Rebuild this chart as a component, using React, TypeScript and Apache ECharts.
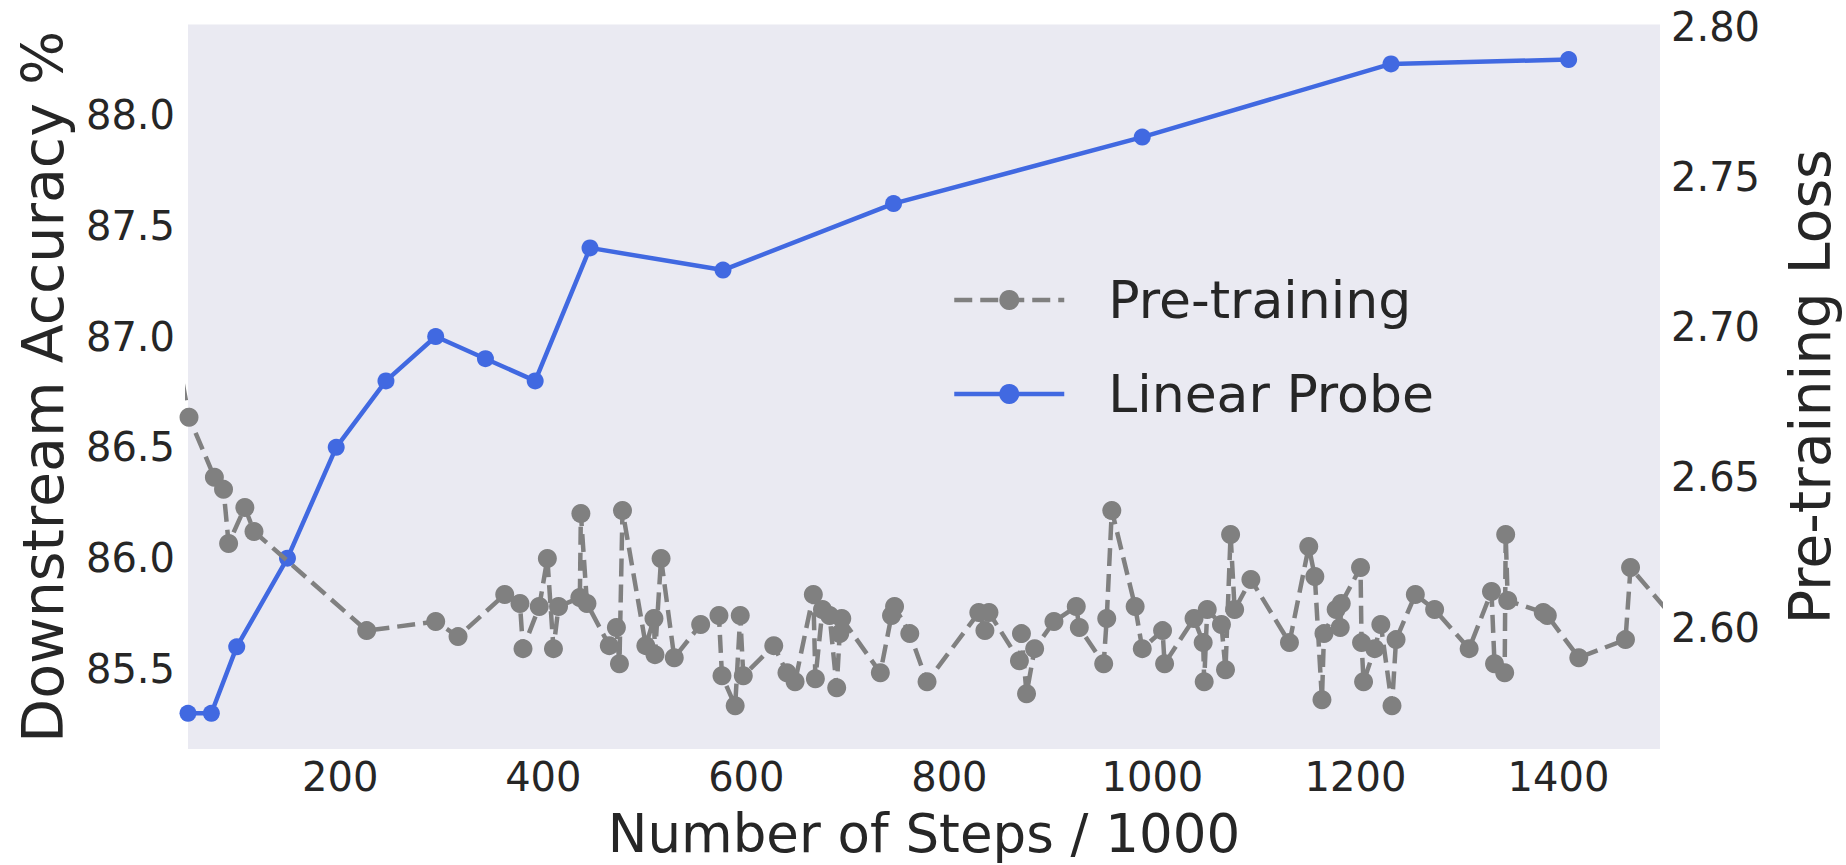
import React, { useEffect, useRef } from "react";
import * as echarts from "echarts";

// Linear probe (left axis): steps / 1000 and downstream accuracy %
const probeSteps = [50, 73, 98, 148, 196, 245, 294, 343, 392, 446, 577, 745, 990, 1235, 1410];
const probeAcc = [85.3, 85.3, 85.6, 86.0, 86.5, 86.8, 87.0, 86.9, 86.8, 87.4, 87.3, 87.6, 87.9, 88.23, 88.25];

// Pre-training loss (right axis)
const pretrainSteps = [
  40, 51, 76, 85, 90, 106, 115, 226, 294, 316,
  362, 377, 380, 396, 404, 410, 415, 436, 437, 443,
  465, 472, 475, 478, 501, 509, 510, 516, 529, 555,
  573, 576, 589, 594, 597, 627, 640, 648, 666, 668,
  675, 682, 689, 692, 694, 732, 743, 746, 761, 778,
  829, 835, 839, 869, 871, 876, 884, 903, 925, 928,
  952, 955, 960, 983, 990, 1010, 1012, 1041, 1050, 1051,
  1054, 1068, 1072, 1077, 1081, 1097, 1135, 1154, 1160, 1167,
  1169, 1181, 1185, 1186, 1205, 1206, 1208, 1219, 1225, 1236,
  1240, 1259, 1278, 1312, 1334, 1337, 1347, 1348, 1350, 1385,
  1389, 1420, 1466, 1471, 1524,
];
const pretrainLoss = [
  2.69, 2.67, 2.65, 2.646, 2.628, 2.64, 2.632, 2.599, 2.602, 2.597,
  2.611, 2.608, 2.593, 2.607, 2.623, 2.593, 2.607, 2.61, 2.638, 2.608,
  2.594, 2.6, 2.588, 2.639, 2.594, 2.603, 2.591, 2.623, 2.59, 2.601,
  2.604, 2.584, 2.574, 2.604, 2.584, 2.594, 2.585, 2.582, 2.611, 2.583,
  2.606, 2.604, 2.58, 2.598, 2.603, 2.585, 2.604, 2.607, 2.598, 2.582,
  2.605, 2.599, 2.605, 2.589, 2.598, 2.578, 2.593, 2.602, 2.607, 2.6,
  2.588, 2.603, 2.639, 2.607, 2.593, 2.599, 2.588, 2.603, 2.595, 2.582,
  2.606, 2.601, 2.586, 2.631, 2.606, 2.616, 2.595, 2.627, 2.617, 2.576,
  2.598, 2.606, 2.6, 2.608, 2.62, 2.595, 2.582, 2.593, 2.601, 2.574,
  2.596, 2.611, 2.606, 2.593, 2.612, 2.588, 2.585, 2.631, 2.609, 2.605,
  2.604, 2.59, 2.596, 2.62, 2.599,
];

const xTicks = [200, 400, 600, 800, 1000, 1200, 1400];
const accTicks = [85.5, 86.0, 86.5, 87.0, 87.5, 88.0];
const lossTicks = [2.6, 2.65, 2.7, 2.75, 2.8];

const GRAY = "#808080";
const BLUE = "#4169E1";

export default function App() {
  const ref = useRef<HTMLDivElement>(null);
  useEffect(() => {
    const chart = echarts.init(ref.current!, null, { renderer: "svg" });
    const font = "DejaVu Sans";
    const textColor = "#262626";
    chart.setOption({
      animation: false,
      backgroundColor: "#ffffff",
      textStyle: { fontFamily: font, color: textColor },
      grid: {
        left: 188,
        right: 170.5,
        top: 24.5,
        bottom: 116,
        show: true,
        backgroundColor: "#EAEAF2",
        borderWidth: 0,
      },
      legend: {
        orient: "vertical",
        left: 952,
        top: 274,
        padding: 0,
        itemGap: 42,
        itemWidth: 110,
        itemHeight: 25,
        data: [
          {
            name: "Pre-training",
            lineStyle: { color: GRAY, width: 4.5, type: [18, 8] },
            itemStyle: { color: GRAY },
          },
          {
            name: "Linear Probe",
            lineStyle: { color: BLUE, width: 4.5, type: "solid" },
            itemStyle: { color: BLUE },
          },
        ],
        textStyle: { fontSize: 52, color: textColor, fontFamily: font, padding: [0, 0, 0, 39] },
      },
      xAxis: {
        type: "value",
        min: 50,
        max: 1500,
        axisLine: { show: false },
        axisTick: { show: false },
        splitLine: { show: false },
        axisLabel: {
          customValues: xTicks,
          formatter: (v: number) => String(v),
          fontSize: 40,
          color: textColor,
          fontFamily: font,
          margin: 8,
        },
        name: "Number of Steps / 1000",
        nameLocation: "middle",
        nameGap: 58,
        nameTextStyle: { fontSize: 53, color: textColor, fontFamily: font },
      },
      yAxis: [
        {
          type: "value",
          position: "left",
          min: 85.139,
          max: 88.408,
          axisLine: { show: false },
          axisTick: { show: false },
          splitLine: { show: false },
          axisLabel: {
            customValues: accTicks,
            formatter: (v: number) => v.toFixed(1),
            fontSize: 40,
            color: textColor,
            fontFamily: font,
            margin: 13,
          },
          name: "Downstream Accuracy %",
          nameLocation: "middle",
          nameGap: 117,
          nameTextStyle: { fontSize: 57, color: textColor, fontFamily: font },
        },
        {
          type: "value",
          position: "right",
          min: 2.5596,
          max: 2.8007,
          axisLine: { show: false },
          axisTick: { show: false },
          splitLine: { show: false },
          axisLabel: {
            customValues: lossTicks,
            formatter: (v: number) => v.toFixed(2),
            fontSize: 40,
            color: textColor,
            fontFamily: font,
            margin: 11,
          },
          name: "Pre-training Loss",
          nameLocation: "middle",
          nameGap: 121,
          nameTextStyle: { fontSize: 57, color: textColor, fontFamily: font },
        },
      ],
      series: [
        {
          name: "Pre-training",
          type: "line",
          yAxisIndex: 1,
          data: pretrainSteps.map((s, i) => [s, pretrainLoss[i]]),
          symbol: "circle",
          symbolSize: 19,
          itemStyle: { color: GRAY },
          lineStyle: { color: GRAY, width: 4.5, type: [18, 8] },
          z: 3,
        },
        {
          name: "Linear Probe",
          type: "line",
          yAxisIndex: 0,
          data: probeSteps.map((s, i) => [s, probeAcc[i]]),
          symbol: "circle",
          symbolSize: 17,
          itemStyle: { color: BLUE },
          lineStyle: { color: BLUE, width: 4.5 },
          z: 2,
        },
      ],
    });
    return () => chart.dispose();
  }, []);
  return (
    <div
      ref={ref}
      style={{ position: "absolute", left: 0, top: 0, width: 1846, height: 865 }}
    />
  );
}
